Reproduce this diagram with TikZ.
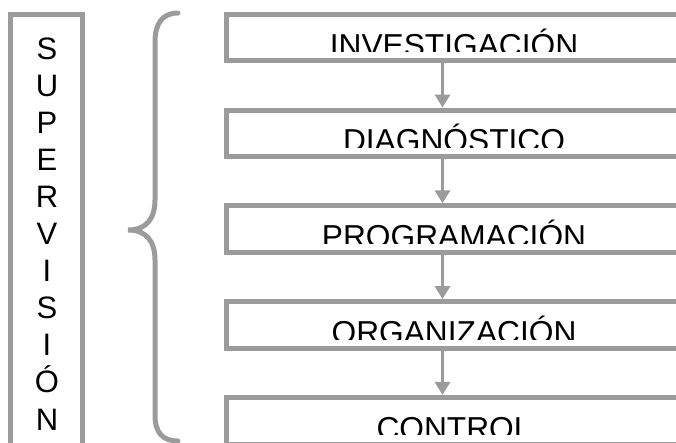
\documentclass[tikz,border=0pt]{standalone}
\usepackage{fontspec}
\setmainfont{Liberation Sans}
\usetikzlibrary{arrows.meta}
\definecolor{framegray}{RGB}{155,155,155}
\begin{document}
\begin{tikzpicture}[x=1pt,y=-1pt,
  frame/.style={draw=framegray, line width=5pt, inner sep=0pt, outer sep=0pt, rectangle},
  stepbox/.style={frame, minimum width=480pt, minimum height=46.6pt, anchor=north west},
  steptext/.style={font=\fontsize{31.7}{38}\selectfont, anchor=base, inner sep=0pt},
  letter/.style={font=\fontsize{31}{37}\selectfont, anchor=base, inner sep=0pt},
  flow/.style={draw=framegray, line width=3.5pt, -{Triangle[width=15pt,length=13pt]}, shorten >=2.5pt},
  bracket/.style={draw=framegray, line width=5pt, line cap=round}]
  % page frame; everything outside is cut off
  \clip (0,0) rectangle (676,442);

  % vertical SUPERVISIÓN column
  \node[frame, minimum width=71.7pt, minimum height=480pt, anchor=north west] (sup) at (10.8,14.2) {};
  \foreach \c [count=\k from 0] in {S,U,P,E,R,V,I,S,I,Ó,N}
    \node[letter] (l\k) at (47,{59+37.1*\k}) {\c};

  % curly brace
  \draw[bracket] (178,13) .. controls (162,13) and (155,24) .. (155,42)
    -- (155,200) .. controls (155,219) and (146,230) .. (128,230)
    .. controls (146,230) and (155,241) .. (155,260)
    -- (155,415) .. controls (155,432) and (162,441) .. (178,441);

  % stage boxes with their (partly hidden) captions
  \coordinate (ax) at (442.5,0);
  \foreach \t [count=\i from 0] in {INVESTIGACIÓN,DIAGNÓSTICO,PROGRAMACIÓN,ORGANIZACIÓN,CONTROL} {
    \pgfmathsetmacro{\top}{14.2+95.8*\i}
    \node[stepbox] (s\i) at (226.5,\top) {};
    \begin{scope}
      \clip (228,\top) rectangle (676,{\top+37.5});
      \node[steptext] (t\i) at (454,{\top+41.8}) {\t};
    \end{scope}
  }

  % arrows between stages
  \foreach \i/\j in {0/1,1/2,2/3,3/4}
    \draw[flow] (s\i.south -| ax) -- (s\j.north -| ax);
\end{tikzpicture}
\end{document}
